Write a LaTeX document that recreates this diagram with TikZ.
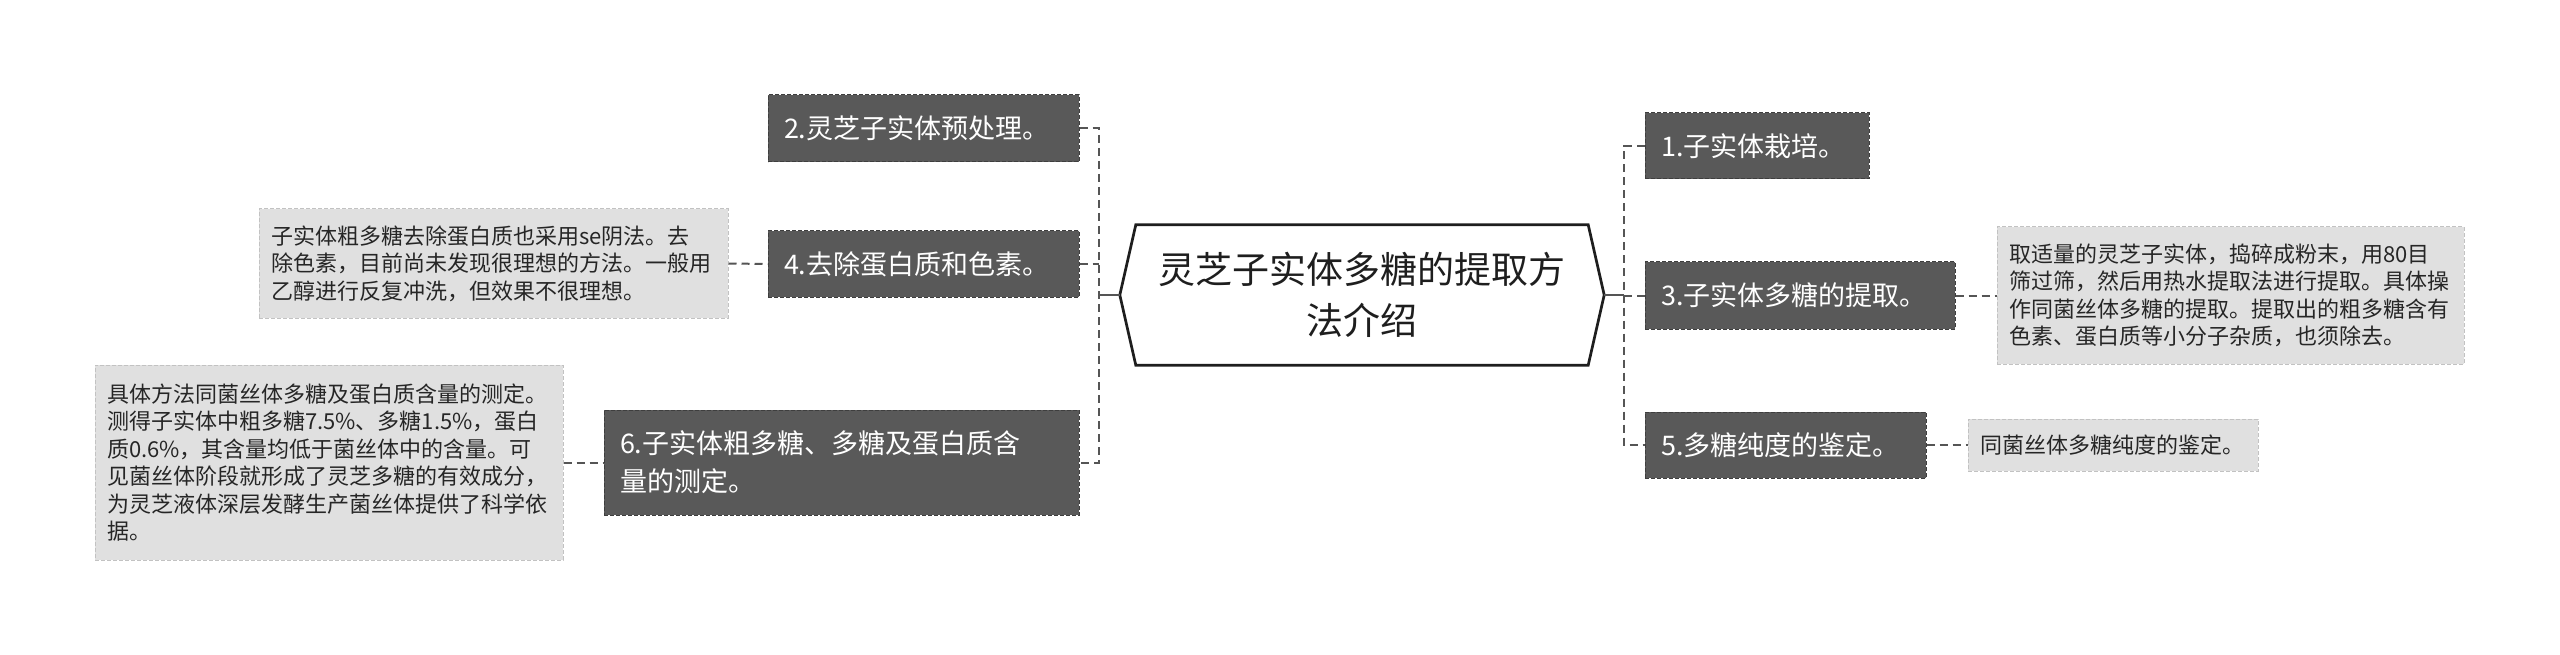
\documentclass[tikz,border=0pt]{standalone}
\usepackage{fontspec}
\setmainfont{Noto Sans CJK SC}
\usetikzlibrary{calc}
\definecolor{darkbox}{HTML}{595959}
\definecolor{darkline}{HTML}{3E3E3E}
\definecolor{leaffill}{HTML}{E0E0E0}
\definecolor{leafline}{HTML}{C2C2C2}
\definecolor{connc}{HTML}{555555}
\definecolor{hexc}{HTML}{1E1E1E}
\begin{document}
\begin{tikzpicture}[x=1pt,y=-1pt,
  topic/.style={fill=darkbox, draw=darkline, dash pattern=on 4pt off 2pt, line width=1pt,
    text=white, font=\fontsize{27}{38}\selectfont, align=left,
    inner xsep=16pt, inner ysep=0pt, text width=#1},
  leaf/.style={fill=leaffill, draw=leafline, dash pattern=on 4pt off 2pt, line width=1pt,
    text=black!85, font=\fontsize{22}{27.5}\selectfont, align=left,
    inner xsep=12pt, inner ysep=0pt, text width=#1},
  hexbox/.style={minimum width=452pt, minimum height=140pt, inner sep=0pt, align=center,
    text=hexc, font=\fontsize{37}{51}\selectfont},
  hexline/.style={draw=hexc, line width=2.7pt, fill=white, line join=miter},
  conn/.style={draw=connc, line width=2pt, dash pattern=on 8pt off 5pt},
  trunk/.style={draw=connc, line width=2.5pt}
]
\useasboundingbox (0,0) rectangle (2560,655);
\fill[white] (0,0) rectangle (2560,655);

% central topic
\node[hexbox] (c) at (1362,295) {};
\coordinate (cw) at ($(c.west)+(-16,0)$);
\coordinate (ce) at ($(c.east)+(16,0)$);
\draw[hexline] (cw) -- (c.north west) -- (c.north east) -- (ce) -- (c.south east) -- (c.south west) -- cycle;
\node[hexbox] (ct) at (1362,295) {灵芝子实体多糖的提取方\\法介绍};

% left topics
\node[topic=279pt, minimum height=67pt] (b2) at (923.5,128.5) {2.灵芝子实体预处理。};
\node[topic=279pt, minimum height=66pt] (b4) at (923.5,264) {4.去除蛋白质和色素。};
\node[topic=443pt, minimum height=105pt] (b6) at (841.5,462.5) {6.子实体粗多糖、多糖及蛋白质含\\量的测定。};

% right topics
\node[topic=192pt, minimum height=66pt] (b1) at (1757,146) {1.子实体栽培。};
\node[topic=278pt, minimum height=67pt] (b3) at (1800,295.5) {3.子实体多糖的提取。};
\node[topic=249pt, minimum height=66pt] (b5) at (1785.5,445) {5.多糖纯度的鉴定。};

% leaves
\node[leaf=445pt, minimum height=109pt] (l4) at (493.5,263.5) {子实体粗多糖去除蛋白质也采用se阴法。去\\除色素，目前尚未发现很理想的方法。一般用\\乙醇进行反复冲洗，但效果不很理想。};
\node[leaf=444pt, minimum height=195pt] (l6) at (329,462.5) {具体方法同菌丝体多糖及蛋白质含量的测定。\\测得子实体中粗多糖7.5\%、多糖1.5\%，蛋白\\质0.6\%，其含量均低于菌丝体中的含量。可\\见菌丝体阶段就形成了灵芝多糖的有效成分，\\为灵芝液体深层发酵生产菌丝体提供了科学依\\据。};
\node[leaf=443pt, minimum height=137pt] (l3) at (2230.5,295.5) {取适量的灵芝子实体，捣碎成粉末，用80目\\筛过筛，然后用热水提取法进行提取。具体操\\作同菌丝体多糖的提取。提取出的粗多糖含有\\色素、蛋白质等小分子杂质，也须除去。};
\node[leaf=266pt, minimum height=52pt] (l5) at (2113,445) {同菌丝体多糖纯度的鉴定。};

% connectors
\coordinate (lt) at (1099,295);
\coordinate (rt) at (1624,295);
\draw[trunk] (cw) -- (lt);
\draw[conn] (b2.east) -- (b2.east -| lt) -- (b6.east -| lt) -- (b6.east);
\draw[conn] (b4.east) -- (b4.east -| lt);
\draw[trunk] (ce) -- (rt);
\draw[conn] (b1.west) -- (b1.west -| rt) -- (b5.west -| rt) -- (b5.west);
\draw[conn] (b3.west) -- (b3.west -| rt);
\draw[conn] (l4.east) -- (b4.west);
\draw[conn] (l6.east) -- (b6.west);
\draw[conn] (b3.east) -- (l3.west);
\draw[conn] (b5.east) -- (l5.west);
\end{tikzpicture}
\end{document}
